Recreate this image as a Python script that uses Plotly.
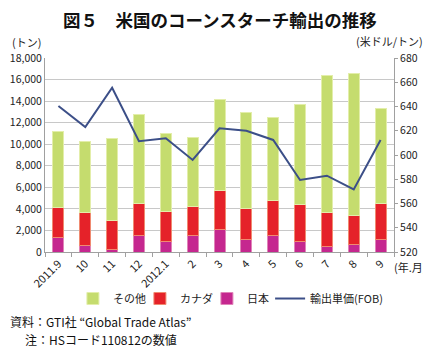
import plotly.graph_objects as go

months = ["2011.9", "10", "11", "12", "2012.1", "2", "3", "4", "5", "6", "7", "8", "9"]
japan = [1350, 620, 250, 1550, 1000, 1550, 2080, 1180, 1570, 980, 480, 700, 1160]
canada = [2820, 3050, 2700, 2960, 2720, 2650, 3640, 2840, 3250, 3450, 3140, 2730, 3350]
other = [6980, 6600, 7620, 8230, 7230, 6470, 8420, 8940, 7670, 9230, 12760, 13140, 8760]
price = [640.4, 623.1, 655.5, 611.3, 613.8, 595.9, 622.0, 620.0, 612.4, 579.4, 582.9, 571.6, 612.4]

left_ticks = list(range(0, 18001, 2000))
right_ticks = list(range(520, 681, 20))

FONT = "Noto Sans CJK JP"

fig = go.Figure()
fig.add_trace(go.Bar(x=months, y=japan, name="日本", legendrank=3,
                     marker=dict(color="#c5278f", line=dict(color="#e084b8", width=1)), width=0.41))
fig.add_trace(go.Bar(x=months, y=canada, name="カナダ", legendrank=2,
                     marker=dict(color="#e52229", line=dict(color="#f08a70", width=1)), width=0.41))
fig.add_trace(go.Bar(x=months, y=other, name="その他", legendrank=1,
                     marker=dict(color="#c5dc6e", line=dict(color="#e3eeaa", width=1)), width=0.41))
fig.add_trace(go.Scatter(x=months, y=price, name="輸出単価(FOB)", legend="legend2", mode="lines",
                         line=dict(color="#3c4f88", width=2), yaxis="y2"))

fig.update_layout(
    width=423, height=347,
    margin=dict(l=37, r=37, t=50, b=103, autoexpand=False),
    barmode="stack",
    plot_bgcolor="white", paper_bgcolor="white",
    font=dict(family=FONT, size=11, color="#222"),
    xaxis=dict(type="category", tickangle=-45, showgrid=False, showline=True, linecolor="#a0a0a0",
               ticks="outside", ticklen=4, tickcolor="#a0a0a0", tickson="boundaries", automargin=False,
               tickfont=dict(family=FONT, size=11), fixedrange=True),
    yaxis=dict(range=[0, 18000], tickvals=left_ticks, tickformat=",", showgrid=True, gridcolor="#c8c8c8", gridwidth=1,
               showline=True, linecolor="#a0a0a0", ticks="", automargin=False,
               zeroline=False, tickfont=dict(family=FONT, size=10.5)),
    yaxis2=dict(range=[520, 680], tickvals=right_ticks, overlaying="y", side="right", showgrid=False,
                showline=True, linecolor="#a0a0a0", ticks="outside", ticklen=3, tickcolor="#a0a0a0", automargin=False,
                zeroline=False, tickfont=dict(family=FONT, size=10.5)),
    legend=dict(orientation="h", x=0.08, xanchor="left", y=-0.165, yanchor="top", traceorder="normal",
                font=dict(family=FONT, size=11), itemwidth=30, entrywidth=22, entrywidthmode="pixels",
                bgcolor="rgba(0,0,0,0)"),
    legend2=dict(orientation="h", x=0.645, xanchor="left", y=-0.165, yanchor="top",
                 font=dict(family=FONT, size=11), itemwidth=30, bgcolor="rgba(0,0,0,0)"),
    showlegend=True,
)

annotations = [
    dict(text="<b>図５　米国のコーンスターチ輸出の推移</b>", x=0.5, y=1.196, xref="paper", yref="paper", xanchor="center", yanchor="middle", showarrow=False, font=dict(family=FONT, size=17.5, color="#111")),
    dict(text="(トン)", x=-0.1, y=1.085, xref="paper", yref="paper", xanchor="left", yanchor="middle", showarrow=False, font=dict(family=FONT, size=11)),
    dict(text="(米ドル/トン)", x=1.088, y=1.09, xref="paper", yref="paper", xanchor="right", yanchor="middle", showarrow=False, font=dict(family=FONT, size=11)),
    dict(text="(年.月)", x=0.995, y=-0.075, xref="paper", yref="paper", xanchor="left", yanchor="middle", showarrow=False, font=dict(family=FONT, size=11)),
    dict(text="資料：GTI社 “Global Trade Atlas”", x=-0.105, y=-0.36, xref="paper", yref="paper", xanchor="left", yanchor="middle", showarrow=False, font=dict(family=FONT, size=12, color="#111")),
    dict(text="注：HSコード110812の数値", x=-0.063, y=-0.452, xref="paper", yref="paper", xanchor="left", yanchor="middle", showarrow=False, font=dict(family=FONT, size=12, color="#111")),
]
fig.update_layout(annotations=annotations)

fig.write_html("out.html")
